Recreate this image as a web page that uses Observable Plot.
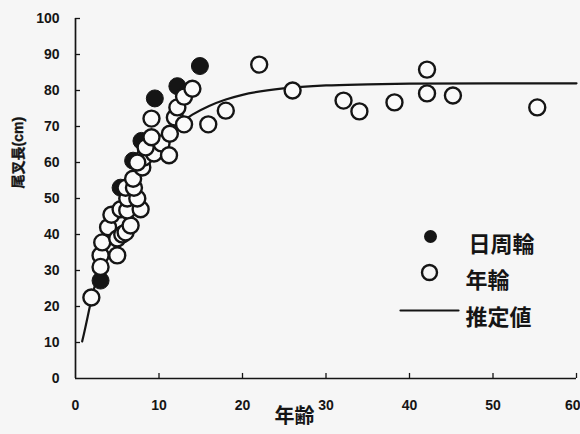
<!DOCTYPE html>
<html><head><meta charset="utf-8">
<script src="https://cdn.jsdelivr.net/npm/d3@7"></script>
<script src="https://cdn.jsdelivr.net/npm/@observablehq/plot@0.6"></script>
<style>
html,body{margin:0;padding:0;background:#f6f6f6;}
#chart{width:580px;height:434px;overflow:hidden;}
#chart svg text{font-weight:bold !important;}
</style></head><body><div id="chart"></div>
<script>
// 日周輪 (daily rings) — filled circles
const dailyAge    = [3.0, 5.4, 6.9, 7.9, 9.5, 12.2, 14.9];
const dailyLength = [27.2, 53.0, 60.5, 66.0, 77.8, 81.2, 86.8];

// 年輪 (annual rings) — open circles
const annualAge    = [1.9, 3.0, 3.0, 3.2, 3.9, 4.3, 5.0, 5.0, 5.6, 6.0, 6.6, 5.4, 6.2, 7.8, 6.2, 7.4, 6.0, 7.0, 6.9, 8.0, 8.2, 7.4, 9.4, 8.4, 10.3, 9.1, 11.3, 11.2, 9.1, 11.9, 12.2, 13.0, 13.0, 14.0, 15.9, 18.0, 22.0, 26.0, 32.1, 34.0, 38.2, 42.1, 42.1, 45.2, 55.3];
const annualLength = [22.5, 34.2, 31.0, 37.8, 42.0, 45.5, 34.2, 38.9, 40.0, 40.6, 42.5, 47.0, 46.7, 47.0, 50.0, 50.0, 53.0, 53.0, 55.5, 58.6, 61.4, 60.0, 62.5, 64.2, 65.3, 67.0, 68.0, 62.0, 72.2, 72.5, 75.3, 70.6, 78.3, 80.5, 70.6, 74.4, 87.2, 80.0, 77.2, 74.2, 76.7, 85.8, 79.2, 78.6, 75.3];

// 推定値 (estimated growth curve)
const fitAge    = [0.8, 1, 2, 3, 4, 5, 6, 7, 8, 9, 10, 12, 14, 16, 18, 20, 25, 30, 35, 40, 50, 60];
const fitLength = [10.3, 12.3, 22.9, 31.8, 39.3, 45.7, 51.1, 55.7, 59.5, 62.8, 65.5, 70.0, 73.3, 75.7, 77.5, 78.8, 80.6, 81.4, 81.7, 81.9, 82.0, 82.0];

const xTicks = [0, 10, 20, 30, 40, 50, 60];
const yTicks = [0, 10, 20, 30, 40, 50, 60, 70, 80, 90, 100];
const legendLabels = ["日周輪", "年輪", "推定値"];
const xTitle = "年齢";
const yTitle = "尾叉長(cm)";

const daily  = dailyAge.map((a, i) => ({age: a, len: dailyLength[i]}));
const annual = annualAge.map((a, i) => ({age: a, len: annualLength[i]}));
const fit    = fitAge.map((a, i) => ({age: a, len: fitLength[i]}));

const ink = "#151515";
const latin = '"Liberation Sans", Arial, "Noto Sans CJK JP", sans-serif';
const cjk = '"Noto Sans CJK JP", "Noto Sans CJK SC", sans-serif';
const hline = {draw(ctx, l) { ctx.moveTo(0, 0); ctx.lineTo(0, -l); }};
const tickText = {fontSize: 14, fontFamily: latin, fontWeight: "bold", fill: ink, stroke: ink, strokeWidth: 0.6};

const chart = Plot.plot({
  width: 580, height: 434,
  marginLeft: 75, marginRight: 4, marginTop: 18, marginBottom: 56,
  style: {background: "transparent", fontFamily: latin, fontWeight: "bold", fontSize: "14px", color: ink, overflow: "visible"},
  x: {domain: [0, 60]},
  y: {domain: [0, 100]},
  marks: [
    Plot.axisX(xTicks.slice(0, -1), {tickSize: 0, tickPadding: 22, label: null, ...tickText}),
    Plot.axisX(xTicks.slice(-1), {tickSize: 0, tickPadding: 22, label: null, textAnchor: "end", dx: 4, ...tickText}),
    Plot.axisY(yTicks, {tickSize: 0, tickPadding: 16, label: null, ...tickText}),
    Plot.ruleX([0], {stroke: ink, strokeWidth: 1.7}),
    Plot.ruleY([0], {stroke: ink, strokeWidth: 1.7}),
    Plot.ruleY(yTicks.filter(d => d > 0), {x1: 0, x2: 0.6, stroke: ink, strokeWidth: 1.3}),
    Plot.ruleX(xTicks.filter(d => d > 0), {y1: 0, y2: 1.4, stroke: ink, strokeWidth: 1.3}),
    Plot.line(fit, {x: "age", y: "len", curve: "monotone-x", stroke: ink, strokeWidth: 2.2}),
    Plot.dot(daily, {x: "age", y: "len", r: 8.5, fill: ink, stroke: ink, strokeWidth: 1}),
    Plot.dot(annual, {x: "age", y: "len", r: 8, fill: "#fafafa", stroke: ink, strokeWidth: 2.4}),
    // legend
    Plot.dot([0], {frameAnchor: "top-left", dx: 355, dy: 218, r: 6.5, fill: ink}),
    Plot.dot([0], {frameAnchor: "top-left", dx: 354, dy: 254, r: 7.5, fill: "none", stroke: ink, strokeWidth: 2.4}),
    Plot.vector([0], {frameAnchor: "top-left", dx: 325, dy: 292, length: 58, rotate: 90, anchor: "start", shape: hline, stroke: ink, strokeWidth: 2.2}),
    Plot.text([legendLabels[0]], {frameAnchor: "top-left", dx: 393, dy: 218, textAnchor: "start", fontSize: 22, fontFamily: cjk, fontWeight: "bold", fill: ink}),
    Plot.text([legendLabels[1]], {frameAnchor: "top-left", dx: 390, dy: 254, textAnchor: "start", fontSize: 22, fontFamily: cjk, fontWeight: "bold", fill: ink}),
    Plot.text([legendLabels[2]], {frameAnchor: "top-left", dx: 390, dy: 291, textAnchor: "start", fontSize: 22, fontFamily: cjk, fontWeight: "bold", fill: ink}),
    // axis titles
    Plot.text([xTitle], {frameAnchor: "bottom-left", dx: 199, dy: 44, fontSize: 20, fontFamily: cjk, fontWeight: "bold", fill: ink}),
    Plot.text([yTitle], {frameAnchor: "left", dx: -57, dy: -10, rotate: -90, ...tickText, strokeWidth: 0.4})
  ]
});
document.getElementById("chart").appendChild(chart);
</script>
</body></html>
